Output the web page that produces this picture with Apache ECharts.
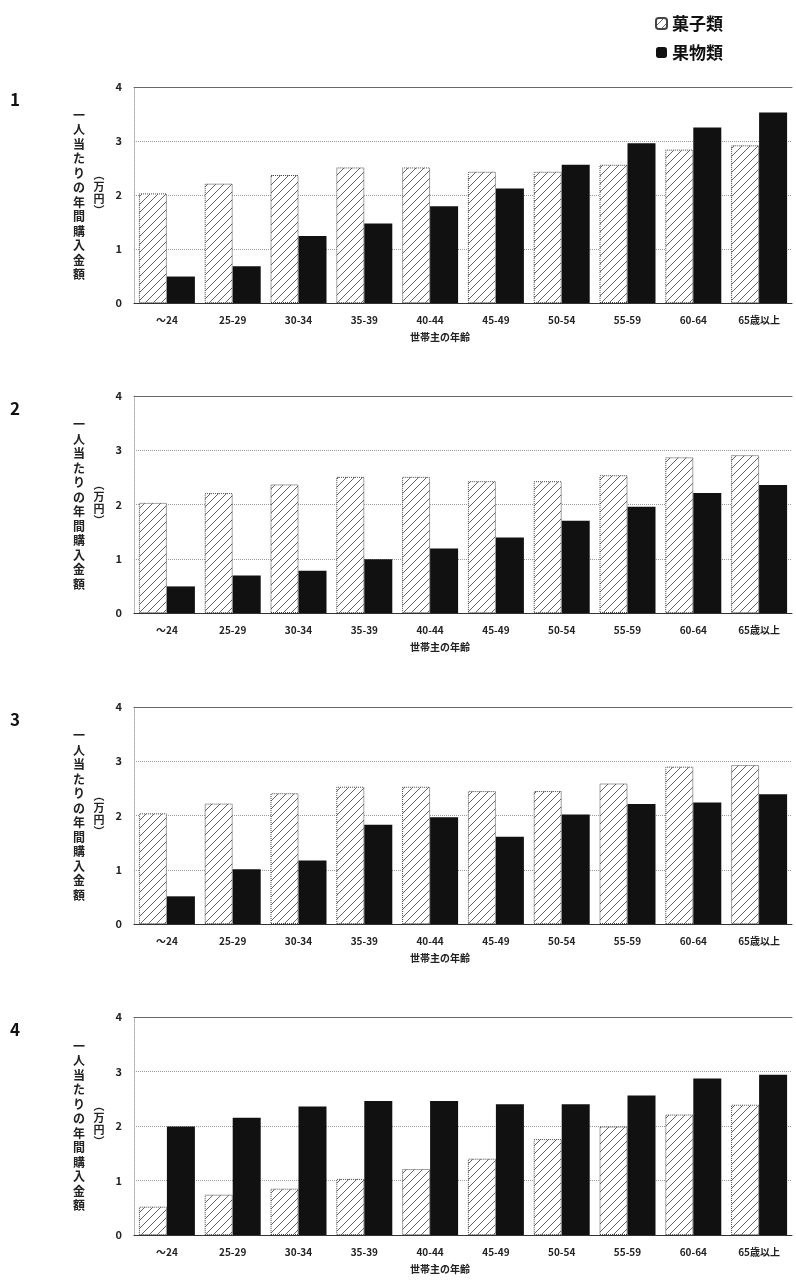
<!DOCTYPE html>
<html>
<head>
<meta charset="utf-8">
<script src="https://cdn.jsdelivr.net/npm/echarts@6/dist/echarts.min.js"></script>
<style>
html,body{margin:0;padding:0;background:#fff;}
#c{width:796px;height:1288px;}
</style>
</head>
<body>
<div id="c"></div>
<script>
// ---- data ----
var categories = ['〜24','25-29','30-34','35-39','40-44','45-49','50-54','55-59','60-64','65歳以上'];
var seriesNames = ['菓子類','果物類'];
var sweets1 = [2.03,2.21,2.37,2.51,2.51,2.43,2.43,2.56,2.84,2.92];
var fruit1  = [0.49,0.68,1.24,1.47,1.79,2.12,2.56,2.96,3.25,3.53];
var sweets2 = [2.03,2.21,2.37,2.51,2.51,2.43,2.43,2.54,2.87,2.91];
var fruit2  = [0.49,0.69,0.78,0.99,1.19,1.39,1.70,1.96,2.21,2.36];
var sweets3 = [2.04,2.22,2.41,2.53,2.53,2.45,2.45,2.59,2.90,2.93];
var fruit3  = [0.51,1.01,1.17,1.83,1.97,1.61,2.02,2.21,2.24,2.39];
var sweets4 = [0.52,0.74,0.85,1.03,1.21,1.40,1.76,1.99,2.21,2.39];
var fruit4  = [1.99,2.15,2.36,2.46,2.46,2.40,2.40,2.56,2.87,2.94];
var panelLabels = ['1','2','3','4'];
var yMin = 0, yMax = 4, yInterval = 1;
var yTitle = '一人当たりの年間購入金額';
var yUnit = ['︵','万','円','︶'];
var xTitle = '世帯主の年齢';

var panels = [[sweets1,fruit1],[sweets2,fruit2],[sweets3,fruit3],[sweets4,fruit4]];

// ---- hatch pattern ----
var pc = document.createElement('canvas');
pc.width = 8; pc.height = 8;
var ctx = pc.getContext('2d');
ctx.fillStyle = '#ffffff'; ctx.fillRect(0,0,8,8);
ctx.strokeStyle = '#555'; ctx.lineWidth = 0.9;
ctx.beginPath();
ctx.moveTo(0,8); ctx.lineTo(8,0);
ctx.moveTo(-1,1); ctx.lineTo(1,-1);
ctx.moveTo(7,9); ctx.lineTo(9,7);
ctx.stroke();
var hatch = {image: pc, repeat: 'repeat'};

var FONT = '"Noto Sans CJK JP", "Noto Sans", sans-serif';
var gridTops = [87, 396, 707, 1017];
var gridHeights = [216, 217, 217, 218];
var gridLeft = 134, gridWidth = 658;

var grids = [], xAxes = [], yAxes = [], series = [], graphics = [];
panels.forEach(function(p, i){
  var top = gridTops[i], h = gridHeights[i];
  grids.push({left: gridLeft, top: top, width: gridWidth, height: h, containLabel: false, outerBoundsMode: 'none'});
  xAxes.push({
    type: 'category', gridIndex: i, data: categories, position: 'bottom',
    axisLine: {show: true, lineStyle: {color: '#333', width: 1}},
    axisTick: {show: false},
    axisLabel: {margin: 12, fontSize: 10, fontWeight: 'bold', color: '#222', fontFamily: FONT}
  });
  xAxes.push({
    type: 'category', gridIndex: i, data: categories, position: 'top',
    axisLine: {show: true, lineStyle: {color: '#666', width: 1}},
    axisTick: {show: false}, axisLabel: {show: false}
  });
  yAxes.push({
    type: 'value', gridIndex: i, min: yMin, max: yMax, interval: yInterval,
    axisLine: {show: true, lineStyle: {color: '#aaa', type: 'dotted'}},
    axisTick: {show: false},
    axisLabel: {margin: 12, fontSize: 11, fontWeight: 'bold', color: '#222', fontFamily: FONT},
    splitLine: {show: true, lineStyle: {color: '#999', type: 'dotted', width: 1}}
  });
  series.push({
    name: seriesNames[0], type: 'bar', xAxisIndex: i*2, yAxisIndex: i, data: p[0],
    barWidth: 28, barGap: '0%',
    itemStyle: {color: hatch, borderColor: '#444', borderWidth: 1, borderType: 'dotted'}
  });
  series.push({
    name: seriesNames[1], type: 'bar', xAxisIndex: i*2, yAxisIndex: i, data: p[1],
    barWidth: 28, barGap: '0%',
    itemStyle: {color: '#111'}
  });
  var mid = top + h/2;
  graphics.push({type: 'text', left: 10, top: top + 4,
    style: {text: panelLabels[i], font: 'bold 17px ' + FONT, fill: '#111'}});
  graphics.push({type: 'text', x: 79, y: mid, 
    style: {text: yTitle.split('').join('\n'), font: 'bold 12px ' + FONT, lineHeight: 14.5,
      fill: '#222', align: 'center', verticalAlign: 'middle'}});
  graphics.push({type: 'text', x: 99, y: mid - 2,
    style: {text: yUnit.join('\n'), font: 'bold 11px ' + FONT, lineHeight: 12,
      fill: '#222', align: 'center', verticalAlign: 'middle'}});
  graphics.push({type: 'text', x: 440, y: top + h + 34,
    style: {text: xTitle, font: 'bold 10px ' + FONT, fill: '#222', align: 'center', verticalAlign: 'middle'}});
});

var chart = echarts.init(document.getElementById('c'), null, {renderer: 'canvas'});
chart.setOption({
  animation: false,
  backgroundColor: '#fff',
  legend: {
    data: seriesNames, orient: 'vertical', left: 650, top: 10,
    itemWidth: 11, itemHeight: 11, itemGap: 12,
    textStyle: {fontSize: 17, fontWeight: 'bold', color: '#111', fontFamily: FONT}
  },
  grid: grids, xAxis: xAxes, yAxis: yAxes, series: series,
  graphic: graphics
});
</script>
</body>
</html>
